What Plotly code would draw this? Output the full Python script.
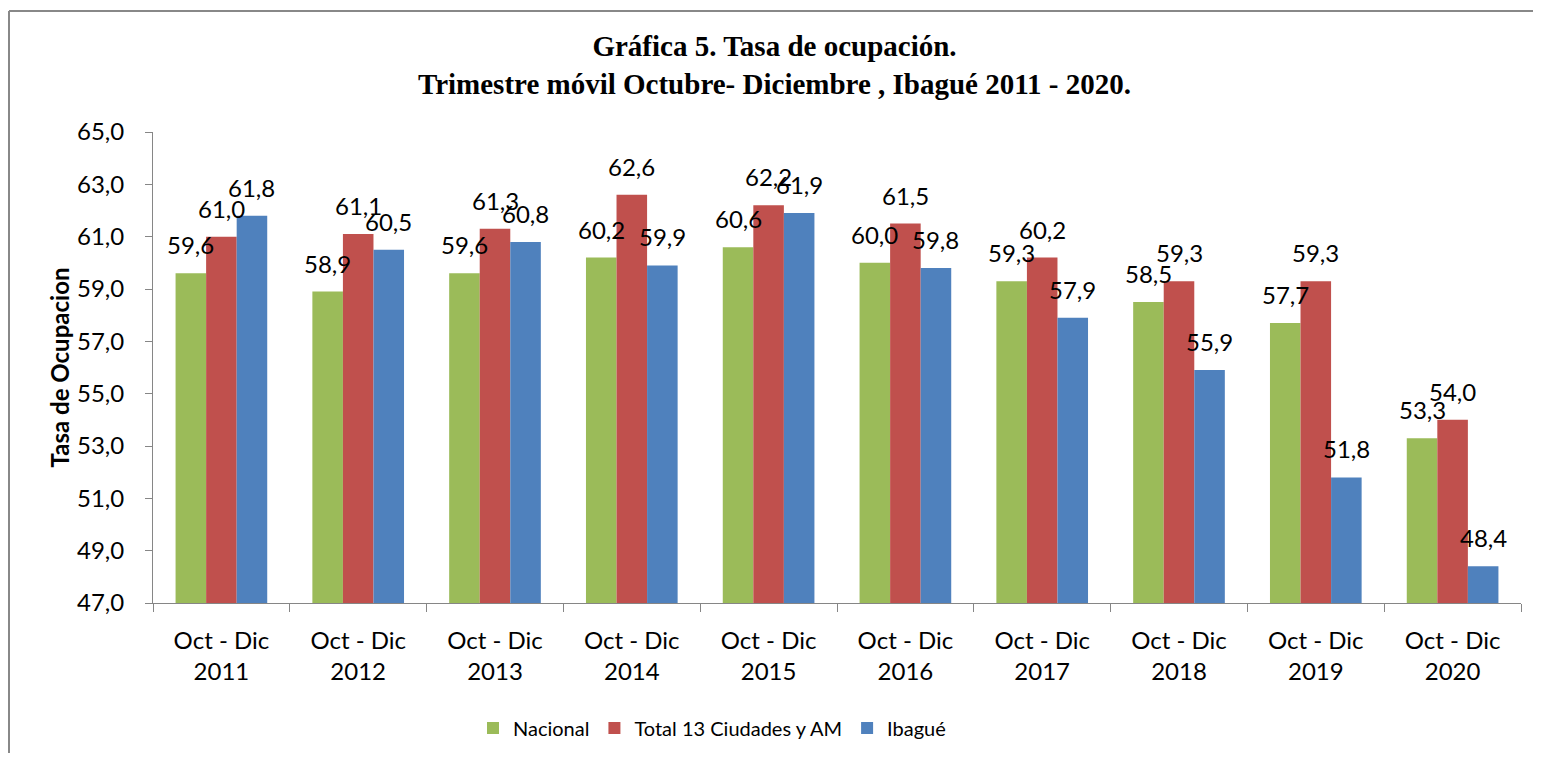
import plotly.graph_objects as go

categories = ["Oct - Dic<br>2011", "Oct - Dic<br>2012", "Oct - Dic<br>2013", "Oct - Dic<br>2014",
              "Oct - Dic<br>2015", "Oct - Dic<br>2016", "Oct - Dic<br>2017", "Oct - Dic<br>2018",
              "Oct - Dic<br>2019", "Oct - Dic<br>2020"]
nacional = [59.6, 58.9, 59.6, 60.2, 60.6, 60.0, 59.3, 58.5, 57.7, 53.3]
total13 = [61.0, 61.1, 61.3, 62.6, 62.2, 61.5, 60.2, 59.3, 59.3, 54.0]
ibague = [61.8, 60.5, 60.8, 59.9, 61.9, 59.8, 57.9, 55.9, 51.8, 48.4]

series_names = ["Nacional", "Total 13 Ciudades y AM", "Ibagué"]
series_values = [nacional, total13, ibague]
colors = ["#9BBB59", "#C0504D", "#4F81BD"]

# figure sits inside the page body (8px default margin)
W, H = 1525, 745
ML, MR, MT, MB = 145, 12, 124, 150
BARGAP = 0.33
FONT = "Lato"

fig = go.Figure()
for name, vals, col in zip(series_names, series_values, colors):
    fig.add_trace(go.Bar(x=categories, y=vals, name=name, marker=dict(color=col, line=dict(width=0))))

plot_w = W - ML - MR
plot_h = H - MT - MB
bar_px = plot_w / len(categories) * (1 - BARGAP) / len(series_names)

annotations = []
for k, vals in enumerate(series_values):
    for c, v in zip(categories, vals):
        annotations.append(dict(
            x=c, y=v, xref="x", yref="y", text=f"{v:.1f}".replace(".", ","),
            showarrow=False, yanchor="bottom", xanchor="center",
            xshift=(k - 1) * bar_px, yshift=12,
            font=dict(family=FONT, size=24, color="#000000")))

# outer frame: only left and top edges are visible in the reference
bx = (1 - ML) / plot_w
by = (H - MB - 3) / plot_h
frame = dict(color="#888888", width=2)

fig.update_layout(
    width=W, height=H,
    margin=dict(l=ML, r=MR, t=MT, b=MB),
    barmode="group", bargap=BARGAP, bargroupgap=0,
    plot_bgcolor="white", paper_bgcolor="white",
    separators=",.",
    font=dict(family=FONT, size=24, color="#000000"),
    title=dict(
        text="Gráfica 5. Tasa de ocupación.<br>Trimestre móvil Octubre- Diciembre , Ibagué 2011 - 2020.",
        font=dict(family="Liberation Serif", size=29, color="#000000", weight="bold"),
        xref="container", x=766.5 / W, xanchor="center",
        yref="container", y=1 - 48 / H, yanchor="middle"),
    legend=dict(
        orientation="h", xref="container", x=465 / W, xanchor="left",
        yref="container", y=1 - 720 / H, yanchor="middle",
        font=dict(family=FONT, size=20, color="#000000"),
        bgcolor="rgba(0,0,0,0)"),
    annotations=annotations,
    shapes=[
        dict(type="line", xref="paper", yref="paper", x0=bx, x1=bx, y0=-(MB / plot_h), y1=by, line=frame),
        dict(type="line", xref="paper", yref="paper", x0=bx, x1=1 + MR / plot_w, y0=by, y1=by, line=frame),
    ],
)

fig.update_yaxes(
    range=[47, 65], dtick=2, tick0=47, tickformat=".1f",
    showgrid=False, zeroline=False,
    showline=True, linecolor="#868686", linewidth=1,
    ticks="outside", ticklen=7, tickcolor="#868686",
    ticklabelstandoff=16,
    tickfont=dict(family=FONT, size=24),
    title=dict(text="Tasa de Ocupacion", font=dict(family=FONT, size=24, weight="bold"), standoff=0),
)
fig.update_xaxes(
    type="category", showgrid=False,
    showline=True, linecolor="#868686", linewidth=1,
    ticks="outside", tickson="boundaries", ticklen=8, tickcolor="#868686",
    ticklabelstandoff=16,
    tickfont=dict(family=FONT, size=24),
)

fig.write_html("out.html")
